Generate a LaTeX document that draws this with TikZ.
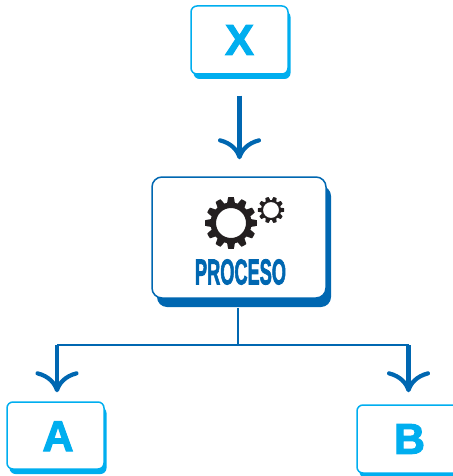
\documentclass[tikz,border=0pt]{standalone}
\usepackage{fontspec}
\setmainfont{Liberation Sans}
\newfontfamily\gruesa[FakeBold=2.5]{Liberation Sans Bold}
\usetikzlibrary{arrows.meta,shadows}
\definecolor{azul}{HTML}{0067B1}
\definecolor{celeste}{HTML}{00AEEF}
\definecolor{negro}{HTML}{231F20}
\tikzset{
	caja/.style={draw=celeste,fill=white,rounded corners=6pt,line width=1.5pt,anchor=center,
		font=\fontsize{43}{43}\selectfont\gruesa,text=celeste,
		copy shadow={draw=none,fill=celeste,shadow xshift=2.5pt,shadow yshift=-5pt}},
	cajaproc/.style={draw=azul,fill=white,rounded corners=10pt,line width=1.5pt,
		minimum width=174pt,minimum height=121pt,
		copy shadow={draw=none,fill=azul,shadow xshift=5pt,shadow yshift=-9pt}},
	flecha/.style={draw=azul,line width=4.6pt,-{Computer Modern Rightarrow[length=21pt,width=43pt,line width=4.2pt]}},
	rama/.style={draw=azul,line width=1.8pt}
}
\newcommand{\rueda}[5]{
	\fill[negro,even odd rule] plot[samples=361,domain=0:360,variable=\t]
		({#1+(#3+#4*min(1,max(0,0.7+1.1*cos(#5*\t))))*cos(\t)},{#2+(#3+#4*min(1,max(0,0.7+1.1*cos(#5*\t))))*sin(\t)})
}
\begin{document}
\begin{tikzpicture}[x=1pt,y=-1pt]
\useasboundingbox (0,0) rectangle (452,476);

% cajas
\node[caja,minimum width=97pt,minimum height=68pt] (x) at (239.5,40) {X};
\node[cajaproc] (proceso) at (239,237.5) {};
\node[caja,minimum width=97pt,minimum height=67pt,text depth=0pt,text height=31pt] (a) at (55.5,435.5) {\hspace{5pt}A};
\node[caja,minimum width=105pt,minimum height=68pt] (b) at (409.5,439) {B};

% engranajes
\rueda{231}{223}{20.5}{5.5}{12} -- cycle (231,223) circle (15);
\rueda{271}{210}{10}{3.2}{10} -- cycle (271,210) circle (8);

\node[text=azul,inner sep=0pt] (titulo) at (240.5,272)
	{\resizebox{91pt}{25pt}{\gruesa PROCESO}};

% flechas
\coordinate (junta) at (238,345);
\coordinate (izq) at (57,345);
\coordinate (der) at (408.5,345);

\draw[flecha,shorten <=21pt,shorten >=17pt] (x.south) -- (proceso.north -| x.south);
\draw[rama,shorten <=9pt] (proceso.south -| junta) -- (junta);
\draw[rama] (izq) -- (der);
\draw[flecha,shorten >=9pt] (izq) -- (a.north -| izq);
\draw[flecha,shorten >=12pt] (der) -- (b.north -| der);
\end{tikzpicture}
\end{document}
